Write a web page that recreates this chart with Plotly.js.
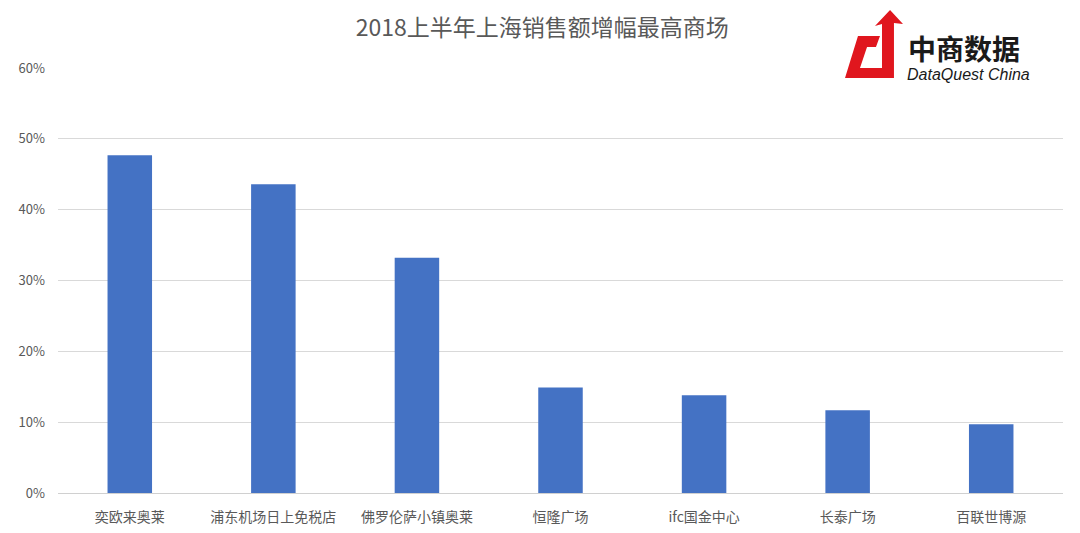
<!DOCTYPE html>
<html>
<head>
<meta charset="utf-8">
<script src="https://cdn.plot.ly/plotly-3.0.1.min.js"></script>
<style>html,body{margin:0;padding:0;background:#fff;}#chart{width:1080px;height:533px;}</style>
</head>
<body>
<div id="chart"></div>
<script>
const categories = ['奕欧来奥莱','浦东机场日上免税店','佛罗伦萨小镇奥莱','恒隆广场','ifc国金中心','长泰广场','百联世博源'];
const growth = [0.477, 0.436, 0.332, 0.149, 0.138, 0.117, 0.097];
const tickVals = [0, 0.1, 0.2, 0.3, 0.4, 0.5, 0.6];
const tickText = ['0%','10%','20%','30%','40%','50%','60%'];

const W = 1080, H = 533, L = 58, R = 17, T = 68, B = 40;
const pw = W - L - R, ph = H - T - B;
function px2paper(pts){
  return pts.map((p,i)=> (i===0?'M ':'L ') + ((p[0]-L)/pw).toFixed(4) + ' ' + ((H-B-p[1])/ph).toFixed(4)).join(' ') + ' Z';
}
const logoPath = px2paper([[858,36],[880,36],[876,47],[867,47],[860,68],[882,68],[882,24],[875,26],[890,10],[903,24],[894,23],[894,78],[845,78]]);

const fontCJK = '"Noto Sans CJK SC", "Noto Sans", sans-serif';
const trace = {
  type: 'bar', x: categories, y: growth,
  marker: {color: '#4472c4'},
  hoverinfo: 'x+y'
};
const layout = {
  width: W, height: H,
  margin: {l: L, r: R, t: T, b: B},
  paper_bgcolor: '#fff', plot_bgcolor: '#fff',
  bargap: 0.69,
  title: {text: '2018上半年上海销售额增幅最高商场', x: 0.502, xanchor: 'center', y: 0.947, yanchor: 'middle',
          font: {family: fontCJK, size: 23, color: '#595959'}},
  xaxis: {tickfont: {family: fontCJK, size: 14, color: '#595959'}, showgrid: false, zeroline: false,
          showline: false, ticks: '', ticklabelstandoff: 14, fixedrange: true},
  yaxis: {range: [0, 0.6], tickvals: tickVals, ticktext: tickText, tickfont: {family: fontCJK, size: 13, color: '#595959'},
          showgrid: true, gridcolor: '#d9d9d9', gridwidth: 1, zeroline: true, zerolinecolor: '#d0d0d0', zerolinewidth: 1,
          showline: false, ticks: '', ticklabelstandoff: 12, fixedrange: true},
  shapes: [{type: 'path', xref: 'paper', yref: 'paper', path: logoPath, fillcolor: '#e0161e', line: {width: 0}}],
  annotations: [
    {text: '<b>中商数据</b>', xref: 'paper', yref: 'paper', x: (906-L)/pw, y: (H-B-48)/ph, xanchor: 'left', yanchor: 'middle',
     showarrow: false, font: {family: fontCJK, size: 28, color: '#1a1a1a'}},
    {text: '<i>DataQuest China</i>', xref: 'paper', yref: 'paper', x: (905-L)/pw, y: (H-B-74)/ph, xanchor: 'left', yanchor: 'middle',
     showarrow: false, font: {family: 'Liberation Sans, Arial, sans-serif', size: 16, color: '#1a1a1a'}}
  ],
  showlegend: false
};
Plotly.newPlot('chart', [trace], layout, {displayModeBar: false, staticPlot: true});
</script>
</body>
</html>
